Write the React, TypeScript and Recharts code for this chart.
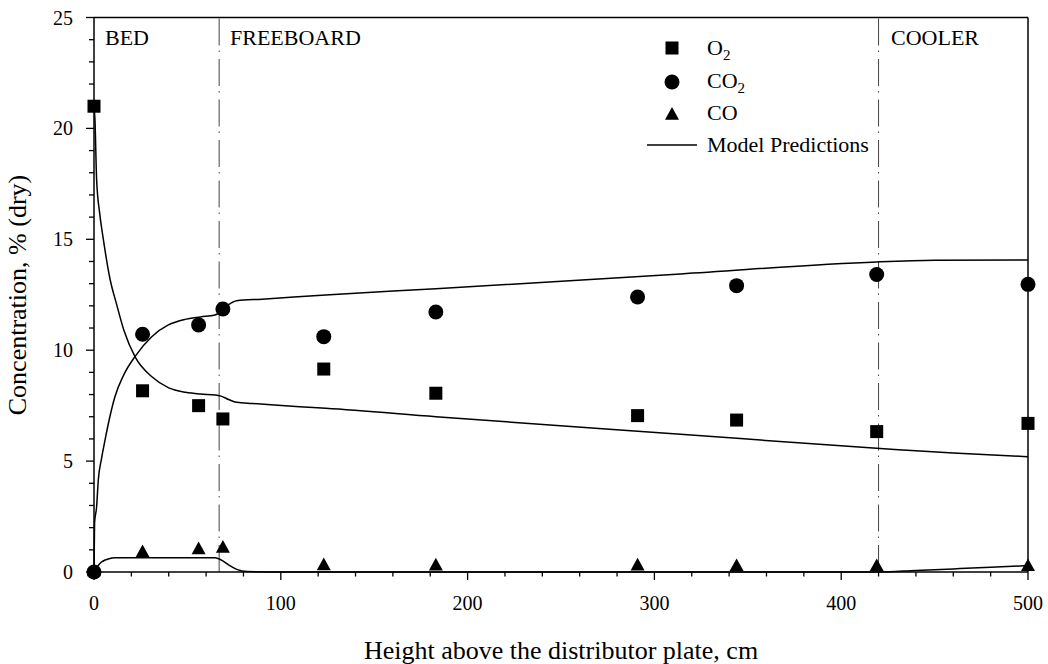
import React from 'react';
import { ComposedChart, XAxis, YAxis, Line, Scatter, ReferenceLine, Customized } from 'recharts';

// Measured data
const heights = [0, 26, 56, 69, 123, 183, 291, 344, 419, 500];
const o2Meas = [21.0, 8.17, 7.5, 6.9, 9.15, 8.06, 7.05, 6.85, 6.33, 6.7];
const co2Meas = [0, 10.72, 11.14, 11.86, 10.61, 11.72, 12.4, 12.91, 13.41, 12.97];
const coMeas = [0, 0.86, 0.99, 1.06, 0.27, 0.26, 0.26, 0.23, 0.23, 0.23];

// Model predictions
const o2ModelX = [0, 0.5, 1.4, 3, 5, 8.6, 12, 16, 22, 31, 40, 49, 57, 65, 68, 72, 76.4, 85, 110, 124, 183, 314, 419, 460, 500];
const o2ModelY = [21, 20.4, 17.7, 16.2, 15.0, 13.2, 12.1, 10.9, 9.7, 8.8, 8.3, 8.1, 8.02, 7.98, 7.93, 7.78, 7.65, 7.6, 7.45, 7.38, 7.0, 6.21, 5.58, 5.36, 5.2];
const co2ModelX = [0, 0.3, 1.4, 2.3, 4, 5.9, 8.5, 11.2, 16, 21.9, 30.9, 39.8, 48.7, 57, 64.8, 68, 72, 76.4, 90, 124, 183, 314, 419, 450, 500];
const co2ModelY = [0, 2.2, 2.94, 4.15, 5.1, 5.95, 7.0, 7.9, 8.9, 9.71, 10.61, 11.14, 11.39, 11.5, 11.59, 11.75, 12.05, 12.23, 12.3, 12.49, 12.77, 13.44, 13.98, 14.05, 14.07];
const coModelX = [0, 1, 2.5, 4, 5.9, 8, 11.2, 30, 50, 64.8, 68, 72, 76.4, 82, 100, 420, 440, 460, 480, 500];
const coModelY = [0, 0.15, 0.32, 0.45, 0.54, 0.6, 0.64, 0.645, 0.645, 0.645, 0.55, 0.32, 0.12, 0.02, 0, 0, 0.07, 0.14, 0.21, 0.29];

// Zone boundaries
const zoneBoundaries = [67, 420];

// Axis ticks
const xTicks = [0, 20, 40, 60, 80, 100, 120, 140, 160, 180, 200, 220, 240, 260, 280, 300, 320, 340, 360, 380, 400, 420, 440, 460, 480, 500];
const yTicks = [0, 1, 2, 3, 4, 5, 6, 7, 8, 9, 10, 11, 12, 13, 14, 15, 16, 17, 18, 19, 20, 21, 22, 23, 24, 25];

const toPts = (xs: number[], ys: number[]) => xs.map((x, i) => ({ x, y: ys[i] }));
const o2Points = toPts(heights, o2Meas);
const co2Points = toPts(heights, co2Meas);
const coPoints = toPts(heights, coMeas);
const o2Model = toPts(o2ModelX, o2ModelY);
const co2Model = toPts(co2ModelX, co2ModelY);
const coModel = toPts(coModelX, coModelY);

const FONT = '"Liberation Serif", "Times New Roman", serif';

const XTick = (props: any) => {
  const { x, y, payload } = props;
  const major = payload.value % 100 === 0;
  return (
    <g>
      <line x1={x} x2={x} y1={y} y2={y + (major ? 8 : 4.5)} stroke="#000" strokeWidth={1.3} />
      {major && (
        <text x={x} y={y + 38} textAnchor="middle" fontSize={20} fontFamily={FONT} fill="#000">
          {payload.value}
        </text>
      )}
    </g>
  );
};

const YTick = (props: any) => {
  const { x, y, payload } = props;
  const major = payload.value % 5 === 0;
  return (
    <g>
      <line x1={x} x2={x - (major ? 8 : 5)} y1={y} y2={y} stroke="#000" strokeWidth={1.3} />
      {major && (
        <text x={x - 21} y={y + 7} textAnchor="end" fontSize={20} fontFamily={FONT} fill="#000">
          {payload.value}
        </text>
      )}
    </g>
  );
};

const Square = (p: any) => <rect x={p.cx - 6.5} y={p.cy - 6.5} width={13} height={13} fill="#000" />;
const Circle = (p: any) => <circle cx={p.cx} cy={p.cy} r={7.5} fill="#000" />;
const Triangle = (p: any) => (
  <path d={`M${p.cx},${p.cy - 8.5} L${p.cx + 7},${p.cy + 4.2} L${p.cx - 7},${p.cy + 4.2} Z`} fill="#000" />
);

const Annotations = () => (
  <g fontFamily={FONT} fill="#000">
    <text x={105} y={45} fontSize={22}>BED</text>
    <text x={230} y={45} fontSize={22}>FREEBOARD</text>
    <text x={891} y={45} fontSize={22}>COOLER</text>
    {/* legend */}
    <rect x={665.5} y={41.5} width={13} height={13} fill="#000" />
    <text x={707} y={55} fontSize={22}>
      O<tspan dy={5} fontSize={15}>2</tspan>
    </text>
    <circle cx={672} cy={82} r={7.5} fill="#000" />
    <text x={707} y={88} fontSize={22}>
      CO<tspan dy={5} fontSize={15}>2</tspan>
    </text>
    <path d="M672,107 L679,119.7 L665,119.7 Z" fill="#000" />
    <text x={707} y={120} fontSize={22}>CO</text>
    <line x1={647} x2={697} y1={145} y2={145} stroke="#000" strokeWidth={1.5} />
    <text x={707} y={152} fontSize={22}>Model Predictions</text>
    {/* axis titles */}
    <text x={561} y={659} fontSize={26} textAnchor="middle">Height above the distributor plate, cm</text>
    <text x={0} y={0} fontSize={26} textAnchor="middle" transform="translate(26,295) rotate(-90)">
      Concentration, % (dry)
    </text>
  </g>
);

export default function App() {
  return (
    <div style={{ position: 'absolute', left: 0, top: 0, width: 1048, height: 664 }}>
      <ComposedChart width={1048} height={664} margin={{ top: 17.5, right: 20, bottom: 0, left: 34 }}>
        <XAxis
          dataKey="x"
          type="number"
          domain={[0, 500]}
          ticks={xTicks}
          interval={0}
          height={92}
          tickSize={0}
          tickMargin={0}
          tickLine={false}
          tick={<XTick />}
          axisLine={{ stroke: '#000', strokeWidth: 1.5 }}
        />
        <YAxis
          type="number"
          domain={[0, 25]}
          ticks={yTicks}
          interval={0}
          width={60}
          tickSize={0}
          tickMargin={0}
          tickLine={false}
          tick={<YTick />}
          axisLine={{ stroke: '#000', strokeWidth: 1.5 }}
        />
        <ReferenceLine y={25} stroke="#000" strokeWidth={1.5} />
        <ReferenceLine x={500} stroke="#000" strokeWidth={1.5} />
        {zoneBoundaries.map((b) => (
          <ReferenceLine key={b} x={b} stroke="#444" strokeWidth={1} strokeDasharray="27 7 1.5 5" />
        ))}
        <Line data={o2Model} dataKey="y" type="monotone" stroke="#000" strokeWidth={1.5} dot={false} isAnimationActive={false} />
        <Line data={co2Model} dataKey="y" type="monotone" stroke="#000" strokeWidth={1.5} dot={false} isAnimationActive={false} />
        <Line data={coModel} dataKey="y" type="monotone" stroke="#000" strokeWidth={1.5} dot={false} isAnimationActive={false} />
        <Scatter data={o2Points} dataKey="y" shape={Square} isAnimationActive={false} />
        <Scatter data={co2Points} dataKey="y" shape={Circle} isAnimationActive={false} />
        <Scatter data={coPoints} dataKey="y" shape={Triangle} isAnimationActive={false} />
        <Customized component={Annotations} />
      </ComposedChart>
    </div>
  );
}
